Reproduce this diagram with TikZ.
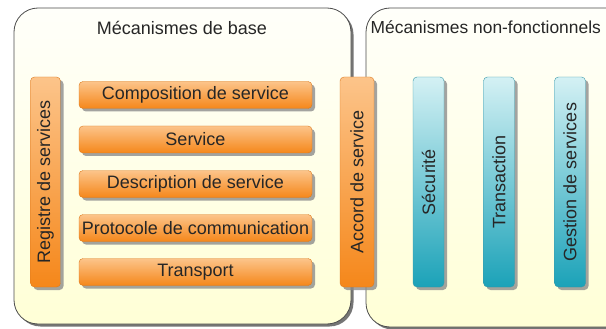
\documentclass[tikz,border=0pt]{standalone}
\usepackage{fontspec}
\setmainfont{Liberation Sans}
\usepackage{graphicx}
\usetikzlibrary{shadows}
\definecolor{orangetop}{HTML}{FCC48A}
\definecolor{orangebot}{HTML}{F5871A}
\definecolor{orangeline}{HTML}{DD7A1E}
\definecolor{bluetop}{HTML}{D4F1F4}
\definecolor{bluebot}{HTML}{1BA2B8}
\definecolor{blueline}{HTML}{3A98A8}
\definecolor{paneltop}{HTML}{FFFFFA}
\definecolor{panelbot}{HTML}{FFFFD6}
\begin{document}
\begin{tikzpicture}[x=1pt, y=-1pt,
  txt/.style={font=\fontsize{18}{21}\selectfont, text=black!85},
  panel/.style={draw=black!70, line width=.8pt, rounded corners=24pt, top color=paneltop, bottom color=panelbot,
    drop shadow={shadow xshift=2.5pt, shadow yshift=-2.5pt, fill=black!60, opacity=.9}},
  bar/.style={txt, rounded corners=4pt, inner sep=0pt,
    drop shadow={shadow xshift=3pt, shadow yshift=-3pt, fill=black!45, opacity=.8}},
  layer/.style={bar, draw=orangeline, top color=orangetop, bottom color=orangebot, minimum width=233pt, minimum height=27pt},
  vorange/.style={bar, draw=orangeline, top color=orangetop, bottom color=orangebot, minimum width=30pt, minimum height=210pt},
  vblue/.style={bar, draw=blueline, top color=bluetop, bottom color=bluebot, minimum width=31pt, minimum height=210pt}]
\useasboundingbox (0,0) rectangle (606,329);
\clip (0,0) rectangle (606,329);
\draw[panel] (14,8) rectangle (351,324);
\draw[panel] (366,8) rectangle (650,327);
\node[txt] (base) at (182,28) {Mécanismes de base};
\node[txt, font=\fontsize{17.4}{20}\selectfont, anchor=west, inner sep=0pt] (nonf) at (370.5,27) {Mécanismes non-fonctionnels};
\node[layer] (compo) at (195.5,95) {Composition de service};
\node[layer] (serv) at (195.5,139.5) {Service};
\node[layer] (descr) at (195.5,184) {Description de service};
\node[layer] (proto) at (195.5,228) {Protocole de communication};
\node[layer] (transp) at (195.5,272) {Transport};
\node[vorange] (registre) at (45.5,182) {\rotatebox{90}{Registre de services}};
\node[vorange, minimum width=34pt] (accord) at (357,182) {\rotatebox{90}{Accord de service}};
\node[vblue] (secu) at (428.5,182) {\rotatebox{90}{Sécurité}};
\node[vblue] (trans) at (499,182) {\rotatebox{90}{Transaction}};
\node[vblue] (gest) at (570,182) {\rotatebox{90}{Gestion de services}};
\end{tikzpicture}
\end{document}
